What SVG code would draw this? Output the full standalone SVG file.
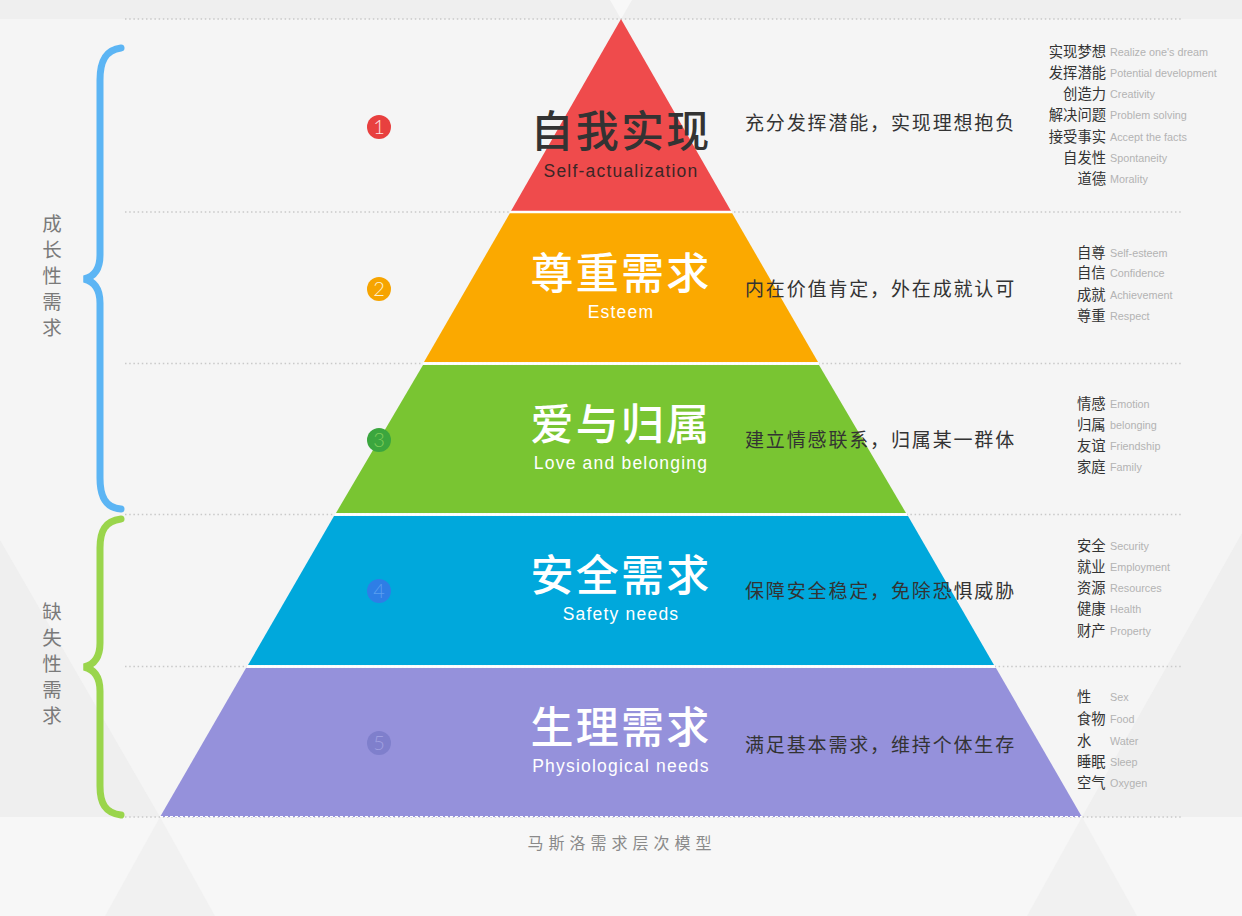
<svg xmlns="http://www.w3.org/2000/svg" width="1242" height="916" viewBox="0 0 1242 916">
<style>
.zh{font-family:"Noto Sans CJK SC","Noto Sans",sans-serif}
.en{font-family:"Liberation Sans","Noto Sans",Arial,sans-serif}
.title{font-size:43px;font-weight:500;text-anchor:middle;letter-spacing:2.2px}
.sub{font-size:17.5px;text-anchor:middle;letter-spacing:1.2px;fill:#ffffff}
.desc{font-size:19px;fill:#333;letter-spacing:1.85px}
.li{font-size:14.3px;fill:#333}
.le{font-size:10.8px;fill:#b3b3b3}
.side{font-size:19.5px;fill:#7a7a7a;writing-mode:tb;letter-spacing:6.5px}
.dot{stroke:#c9c9c9;stroke-width:1.5;stroke-dasharray:1.5 2.7;fill:none}
.gap{stroke:#ffffff;stroke-width:2.5}
.gapd{stroke:#ffffff;stroke-width:1;stroke-dasharray:3 2}
.num{font-family:Lato,"Liberation Sans",sans-serif;font-weight:300;font-size:20px;text-anchor:middle}
.brace{fill:none;stroke-width:7;stroke-linecap:round}
</style>
<rect x="0" y="0" width="1242" height="916" fill="#f5f5f5"/>
<rect x="0" y="0" width="1242" height="19" fill="#efefef"/>
<rect x="0" y="817" width="1242" height="99" fill="#f7f7f7"/>
<polygon points="0,540 160,817 0,817" fill="#efefef"/>
<polygon points="1242,533 1082,817 1242,817" fill="#efefef"/>
<polygon points="160,817 105,916 215,916" fill="#f1f1f1"/>
<polygon points="1082,817 1027,916 1137,916" fill="#f1f1f1"/>
<polygon points="610,0 632,0 621,19" fill="#f8f8f8"/>

<g id="guides">
<line class="dot" x1="125" y1="19" x2="1183" y2="19"/>
<line class="dot" x1="125" y1="212" x2="1183" y2="212"/>
<line class="dot" x1="125" y1="363.5" x2="1183" y2="363.5"/>
<line class="dot" x1="125" y1="514.5" x2="1183" y2="514.5"/>
<line class="dot" x1="125" y1="666.5" x2="1183" y2="666.5"/>
<line class="dot" x1="125" y1="817" x2="1183" y2="817"/>
</g>

<g id="layer1">
<polygon points="621,19 731,211 511,211" fill="#ef4b4c"/>
<text class="zh title" x="621" y="147" fill="#333333">自我实现</text>
<text class="en sub" x="621" y="177" style="fill:#3b2626">Self-actualization</text>
</g>
<g id="layer2">
<polygon points="510,213 732,213 818,362 424,362" fill="#fba900"/>
<text class="zh title" x="621" y="289" fill="#ffffff">尊重需求</text>
<text class="en sub" x="621" y="318">Esteem</text>
</g>
<g id="layer3">
<polygon points="423,365 819,365 906,513 336,513" fill="#79c532"/>
<text class="zh title" x="621" y="440" fill="#ffffff">爱与归属</text>
<text class="en sub" x="621" y="469">Love and belonging</text>
</g>
<g id="layer4">
<polygon points="334,516 908,516 994,665 248,665" fill="#00a8dc"/>
<text class="zh title" x="621" y="591" fill="#ffffff">安全需求</text>
<text class="en sub" x="621" y="620">Safety needs</text>
</g>
<g id="layer5">
<polygon points="246,668 996,668 1082,817 160,817" fill="#9591db"/>
<text class="zh title" x="621" y="743" fill="#ffffff">生理需求</text>
<text class="en sub" x="621" y="772">Physiological needs</text>
</g>

<g id="separators">
<line class="gap" x1="510" y1="212" x2="732" y2="212"/>
<line class="gap" x1="423" y1="363.5" x2="819" y2="363.5"/>
<line class="gap" x1="335" y1="514.5" x2="907" y2="514.5"/>
<line class="gap" x1="247" y1="666.5" x2="995" y2="666.5"/>
<line class="gapd" x1="160" y1="816.5" x2="1082" y2="816.5"/>
</g>

<g id="numbers">
<circle cx="379" cy="127" r="12" fill="#e8403f"/>
<text class="num" x="379" y="134" fill="#fde4e4">1</text>
<circle cx="379" cy="289" r="12" fill="#f6a400"/>
<text class="num" x="379" y="296" fill="#fff1d0">2</text>
<circle cx="379" cy="440" r="12" fill="#3ba63e"/>
<text class="num" x="379" y="447" fill="#7fcc5a">3</text>
<circle cx="379" cy="591" r="12" fill="#2e7ee6"/>
<text class="num" x="379" y="598" fill="#5a9ff0">4</text>
<circle cx="379" cy="743" r="12" fill="#7f7fcc"/>
<text class="num" x="379" y="750" fill="#a09fe0">5</text>
</g>

<g id="descriptions" class="zh">
<text class="desc" x="745" y="130">充分发挥潜能，实现理想抱负</text>
<text class="desc" x="745" y="296">内在价值肯定，外在成就认可</text>
<text class="desc" x="745" y="447">建立情感联系，归属某一群体</text>
<text class="desc" x="745" y="598">保障安全稳定，免除恐惧威胁</text>
<text class="desc" x="745" y="752">满足基本需求，维持个体生存</text>
</g>

<g id="list1">
<g class="zh li" text-anchor="end">
<text x="1106" y="57">实现梦想</text>
<text x="1106" y="78">发挥潜能</text>
<text x="1106" y="99">创造力</text>
<text x="1106" y="120">解决问题</text>
<text x="1106" y="142">接受事实</text>
<text x="1106" y="163">自发性</text>
<text x="1106" y="184">道德</text>
</g>
<g class="en le">
<text x="1110" y="56">Realize one's dream</text>
<text x="1110" y="77">Potential development</text>
<text x="1110" y="98">Creativity</text>
<text x="1110" y="119">Problem solving</text>
<text x="1110" y="141">Accept the facts</text>
<text x="1110" y="162">Spontaneity</text>
<text x="1110" y="183">Morality</text>
</g>
</g>
<g id="list2">
<g class="zh li">
<text x="1077" y="258">自尊</text>
<text x="1077" y="278">自信</text>
<text x="1077" y="300">成就</text>
<text x="1077" y="321">尊重</text>
</g>
<g class="en le">
<text x="1110" y="257">Self-esteem</text>
<text x="1110" y="277">Confidence</text>
<text x="1110" y="299">Achievement</text>
<text x="1110" y="320">Respect</text>
</g>
</g>
<g id="list3">
<g class="zh li">
<text x="1077" y="409">情感</text>
<text x="1077" y="430">归属</text>
<text x="1077" y="451">友谊</text>
<text x="1077" y="472">家庭</text>
</g>
<g class="en le">
<text x="1110" y="408">Emotion</text>
<text x="1110" y="429">belonging</text>
<text x="1110" y="450">Friendship</text>
<text x="1110" y="471">Family</text>
</g>
</g>
<g id="list4">
<g class="zh li">
<text x="1077" y="551">安全</text>
<text x="1077" y="572">就业</text>
<text x="1077" y="593">资源</text>
<text x="1077" y="614">健康</text>
<text x="1077" y="636">财产</text>
</g>
<g class="en le">
<text x="1110" y="550">Security</text>
<text x="1110" y="571">Employment</text>
<text x="1110" y="592">Resources</text>
<text x="1110" y="613">Health</text>
<text x="1110" y="635">Property</text>
</g>
</g>
<g id="list5">
<g class="zh li">
<text x="1077" y="702">性</text>
<text x="1077" y="724">食物</text>
<text x="1077" y="746">水</text>
<text x="1077" y="767">睡眠</text>
<text x="1077" y="788">空气</text>
</g>
<g class="en le">
<text x="1110" y="701">Sex</text>
<text x="1110" y="723">Food</text>
<text x="1110" y="745">Water</text>
<text x="1110" y="766">Sleep</text>
<text x="1110" y="787">Oxygen</text>
</g>
</g>

<g id="growth">
<path class="brace" stroke="#5cb5f4" d="M121,48 C105,50 100,62 100,80 L100,255 C100,270 93,277 84,279 C93,281 100,288 100,303 L100,478 C100,496 105,508 121,509"/>
<text class="zh side" x="52" y="214">成长性需求</text>
</g>
<g id="deficiency">
<path class="brace" stroke="#9ad54c" d="M121,519 C105,521 100,531 100,548 L100,643 C100,658 93,665 84,667 C93,669 100,676 100,691 L100,786 C100,803 105,813 121,815"/>
<text class="zh side" x="52" y="602">缺失性需求</text>
</g>

<text id="caption" class="zh" x="622" y="849" font-size="16" fill="#8a8a8a" text-anchor="middle" letter-spacing="5">马斯洛需求层次模型</text>
</svg>
